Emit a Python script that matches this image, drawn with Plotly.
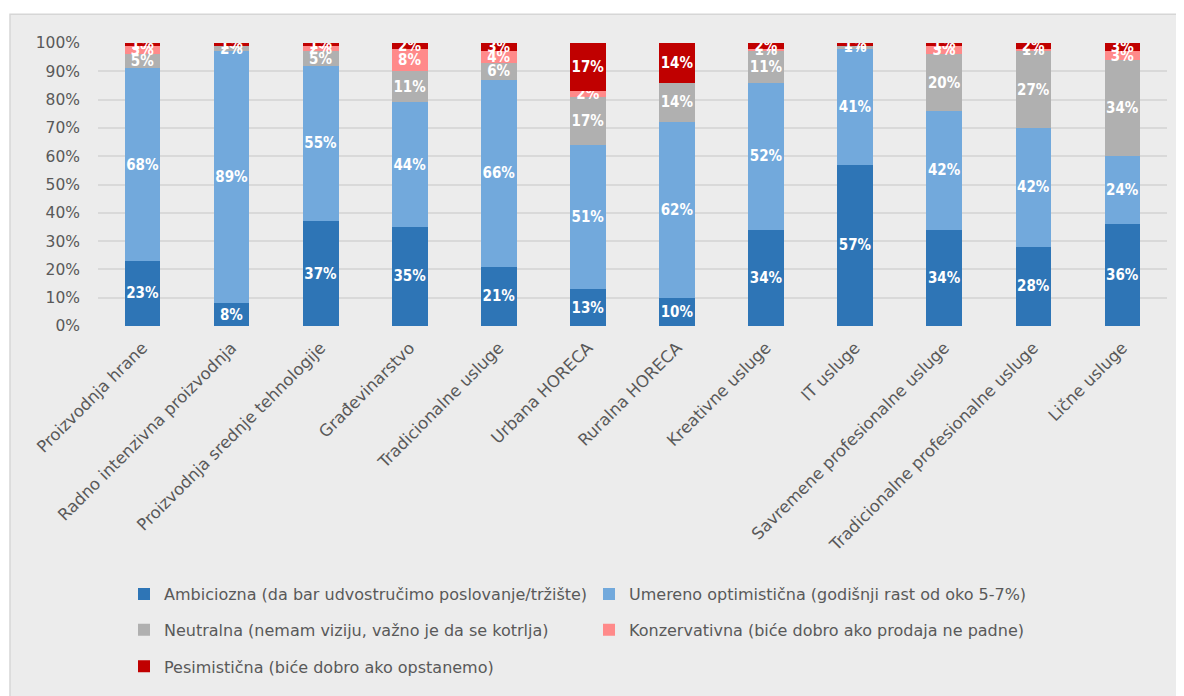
import plotly.graph_objects as go

categories = ["Proizvodnja hrane", "Radno intenzivna proizvodnja", "Proizvodnja srednje tehnologije",
              "Građevinarstvo", "Tradicionalne usluge", "Urbana HORECA", "Ruralna HORECA",
              "Kreativne usluge", "IT usluge", "Savremene profesionalne usluge",
              "Tradicionalne profesionalne usluge", "Lične usluge"]

ambiciozna = [23, 8, 37, 35, 21, 13, 10, 34, 57, 34, 28, 36]
umereno = [68, 89, 55, 44, 66, 51, 62, 52, 41, 42, 42, 24]
neutralna = [5, 2, 5, 11, 6, 17, 14, 11, 1, 20, 27, 34]
konzervativna = [3, 0, 2, 8, 4, 2, 0, 1, 0, 3, 1, 3]
pesimisticna = [1, 1, 1, 2, 3, 17, 14, 2, 1, 1, 2, 3]

series_names = ["Ambiciozna (da bar udvostručimo poslovanje/tržište)",
                "Umereno optimistična (godišnji rast od oko 5-7%)",
                "Neutralna (nemam viziju, važno je da se kotrlja)",
                "Konzervativna (biće dobro ako prodaja ne padne)",
                "Pesimistična (biće dobro ako opstanemo)"]
series_values = [ambiciozna, umereno, neutralna, konzervativna, pesimisticna]
colors = ["#2E75B6", "#72A9DC", "#B0B0B0", "#FF8A8A", "#C00000"]
legend_rows = ["legend", "legend", "legend2", "legend2", "legend3"]

OFF = 8  # page body margin
W, H = 1176, 688
ML, MT = 90, 35
MR = W - (1167 - OFF)
MB = H - (329 - OFF)
pw, ph = W - ML - MR, H - MT - MB


def px_x(x):
    return (x - OFF - ML) / pw


def px_y(y):
    return (H - MB - (y - OFF)) / ph


fig = go.Figure()
for name, vals, col, lg in zip(series_names, series_values, colors, legend_rows):
    fig.add_trace(go.Bar(
        x=categories, y=[v / 100 for v in vals], name=name, legend=lg,
        marker=dict(color=col, line=dict(width=0)),
        text=[f"{v}%" if v > 0 else "" for v in vals],
        textposition="inside", insidetextanchor="middle", textangle=0,
        textfont=dict(color="white", size=15, family="DejaVu Sans Condensed", weight="bold"),
        hoverinfo="skip",
    ))

legend_common = dict(orientation="h", xanchor="left", yanchor="middle",
                     traceorder="normal", entrywidth=420, entrywidthmode="pixels",
                     font=dict(size=16, color="#595959", family="DejaVu Sans"),
                     bgcolor="rgba(0,0,0,0)")

fig.update_layout(
    width=W, height=H,
    margin=dict(l=ML, r=MR, t=MT, b=MB),
    barmode="stack", bargap=0.6,
    paper_bgcolor="white", plot_bgcolor="rgba(0,0,0,0)",
    font=dict(family="DejaVu Sans", color="#595959", size=15),
    uniformtext=dict(minsize=15, mode="show"),
    showlegend=True,
    legend=dict(x=px_x(124), y=px_y(600), **legend_common),
    legend2=dict(x=px_x(124), y=px_y(636), **legend_common),
    legend3=dict(x=px_x(124), y=px_y(673), **legend_common),
    shapes=[dict(type="rect", xref="paper", yref="paper", layer="below",
                 x0=px_x(10), x1=px_x(1200), y0=px_y(14), y1=px_y(710),
                 fillcolor="#ECECEC", line=dict(color="#D6D6D6", width=1.5))],
)
fig.update_yaxes(range=[0, 1], dtick=0.1, tickformat=".0%", showgrid=True,
                 gridcolor="#D9D9D9", gridwidth=1.5, zeroline=False,
                 ticklabelstandoff=17, tickfont=dict(size=15.5, color="#595959"))
fig.update_xaxes(tickangle=-45, showline=False, ticklabelstandoff=8,
                 tickfont=dict(size=16.5, color="#595959", family="DejaVu Sans"))

fig.write_html("out.html")
